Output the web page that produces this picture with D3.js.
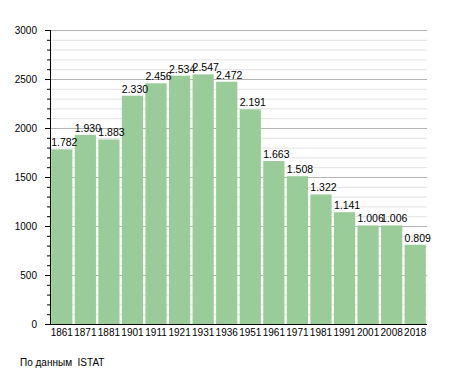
<!DOCTYPE html>
<html><head><meta charset="utf-8">
<script src="https://cdn.jsdelivr.net/npm/d3@7"></script>
<style>body{margin:0;background:#fff}svg{display:block}text{font-family:"Liberation Sans",Arial,sans-serif}</style>
</head><body>
<svg id="c" width="455" height="373"></svg>
<script>
const years = ["1861","1871","1881","1901","1911","1921","1931","1936","1951","1961","1971","1981","1991","2001","2008","2018"];
const population = [1782,1930,1883,2330,2456,2534,2547,2472,2191,1663,1508,1322,1141,1006,1006,809];
const valueLabels = ["1.782","1.930","1.883","2.330","2.456","2.534","2.547","2.472","2.191","1.663","1.508","1.322","1.141","1.006","1.006","0.809"];
const yTicks = [0,500,1000,1500,2000,2500,3000];
const source = "По данным  ISTAT";

const FONT = '"Liberation Sans",Arial,sans-serif';
const svg = d3.select("#c");
const L = 50, R = 427, T = 30, B = 324;
const x = d3.scaleBand().domain(years).range([L, R]).paddingInner(0.1).paddingOuter(0.05);
const y = d3.scaleLinear().domain([0, 3000]).range([B, T]);

// gridlines
const minor = d3.range(100, 3001, 100).filter(v => v % 500 !== 0);
svg.append("g").selectAll("line").data(minor).join("line")
  .attr("x1", L).attr("x2", R).attr("y1", d => y(d) + 0.5).attr("y2", d => y(d) + 0.5)
  .attr("stroke", "#e2e2e2").attr("stroke-width", 1);
svg.append("g").selectAll("line").data(yTicks.filter(v => v > 0)).join("line")
  .attr("x1", L).attr("x2", R).attr("y1", d => y(d) + 0.5).attr("y2", d => y(d) + 0.5)
  .attr("stroke", "#b4b4b4").attr("stroke-width", 1);

// bars
svg.append("g").selectAll("rect").data(years).join("rect")
  .attr("x", d => x(d)).attr("width", x.bandwidth())
  .attr("y", (d, i) => y(population[i])).attr("height", (d, i) => B - y(population[i]))
  .attr("fill", "#99cc99");

// value labels
svg.append("g").selectAll("text").data(years).join("text")
  .attr("x", d => x(d)).attr("y", (d, i) => y(population[i]) - 3)
  .attr("font-size", 10.5).attr("fill", "#000")
  .text((d, i) => valueLabels[i]);

// y axis
const ya = svg.append("g").attr("transform", `translate(${L},0)`)
  .call(d3.axisLeft(y).tickValues(yTicks).tickSize(5).tickPadding(8).tickFormat(d3.format("d")));
ya.select(".domain").remove();
ya.selectAll("text").attr("font-size", 10).attr("font-family", FONT).attr("fill","#000");
ya.selectAll("line").attr("stroke", "#000");
svg.append("g").selectAll("line").data(minor).join("line")
  .attr("x1", L - 3).attr("x2", L).attr("y1", d => y(d) + 0.5).attr("y2", d => y(d) + 0.5)
  .attr("stroke", "#000");
svg.append("line").attr("x1", L + 0.5).attr("x2", L + 0.5).attr("y1", T).attr("y2", B).attr("stroke", "#000");

// x axis
const xa = svg.append("g").attr("transform", `translate(0,${B})`)
  .call(d3.axisBottom(x).tickSize(0).tickPadding(5));
xa.select(".domain").remove();
xa.selectAll("text").attr("font-size", 10).attr("font-family", FONT).attr("fill","#000");
svg.append("line").attr("x1", L).attr("x2", R).attr("y1", B + 0.5).attr("y2", B + 0.5).attr("stroke", "#000");

svg.append("text").attr("x", 20).attr("y", 366).attr("font-size", 10).attr("fill", "#000")
  .style("white-space", "pre").text(source);
</script>
</body></html>
